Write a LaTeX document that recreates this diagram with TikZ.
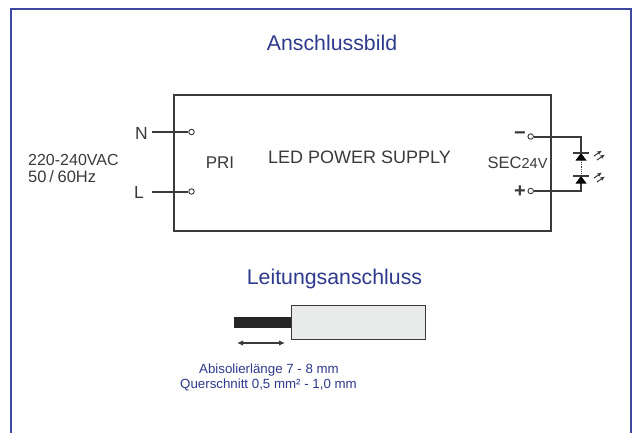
\documentclass[tikz,border=0pt]{standalone}
\usepackage{fontspec}
\setmainfont{Liberation Sans}
\definecolor{frameblue}{HTML}{3F48A0}
\definecolor{textblue}{HTML}{2E3A8C}
\definecolor{ink}{HTML}{3A3A3A}
\definecolor{cablefill}{HTML}{E9EBEA}
\usetikzlibrary{arrows.meta}
\tikzset{
  lbl/.style={inner sep=0pt,text=ink,font=\fontsize{#1}{#1}\selectfont},
  blbl/.style={inner sep=0pt,text=textblue,font=\fontsize{#1}{#1}\selectfont},
  wire/.style={draw=ink,line width=2pt},
  term/.style={circle,draw=ink,line width=.9pt,fill=white,minimum size=5.5pt,inner sep=0pt},
  dio/.style={fill=black,draw=none},
  led/.style={draw=ink,line width=1pt,-{Latex[length=4.5pt,width=4pt]}}
}
\begin{document}
\begin{tikzpicture}[x=1pt,y=-1pt]
\useasboundingbox (0,0) rectangle (634,433);
\fill[white] (0,0) rectangle (634,433);
% frame
\coordinate (fbl) at (10.5,433);
\coordinate (ftl) at (10.5,9.5);
\coordinate (ftr) at (630.5,9.5);
\coordinate (fbr) at (630.5,433);
\draw[frameblue,line width=2pt] (fbl) -- (ftl) -- (ftr) -- (fbr);
\node[blbl=21.3] (title) at (332,43) {Anschlussbild};
\node[blbl=21.3] (title2) at (334.5,278.5) {Leitungsanschluss};
% supply box
\node[draw=ink,line width=1.8pt,minimum width=377pt,minimum height=136pt,inner sep=0pt] (psu) at (362.5,163) {};
\node[lbl=18] (psutxt) at (359.5,157.5) {LED POWER SUPPLY};
\node[lbl=17] (pri) at (220,163) {PRI};
\node[lbl=16.5,anchor=west] (sec) at (487.5,163) {SEC\fontsize{14.5}{14.5}\selectfont 24V};
% mains labels
\node[lbl=16,anchor=west] (vac) at (28,159.5) {220-240VAC};
\node[lbl=16.5,anchor=west] (hz) at (28,177) {50\,/\,\kern1pt 60Hz};
\node[lbl=17.5] (N) at (141.5,133.5) {N};
\node[lbl=17.5] (L) at (139,192) {L};
\node[term] (tn) at (191.5,132) {};
\node[term] (tl) at (191.5,191.5) {};
\coordinate (nw) at (152,132);
\coordinate (lw) at (152,191.5);
\draw[wire] (nw) -- (tn);
\draw[wire] (lw) -- (tl);
% secondary
\node[term] (tm) at (530.7,136.5) {};
\node[term] (tp) at (530.7,191) {};
\node[lbl=20] (minus) at (520,136) {\textbf{−}};
\node[lbl=20] (plus) at (520,191.5) {\textbf{+}};
\coordinate (cm) at (581,136.5);
\coordinate (cp) at (581,191);
\coordinate (d1) at (581,153);
\coordinate (d2) at (581,176);
\draw[wire] (tm) -- (cm) -- (d1);
\draw[wire] (tp) -- (cp) -- (d2);
\draw[ink,line width=.8pt,densely dotted] (d1) -- (d2);
% LEDs
\fill[dio] (575.5,160.5) -- (586.5,160.5) -- (581,153) -- cycle;
\draw[ink,line width=1.4pt] (573,153) -- (589,153);
\fill[dio] (575.5,183.5) -- (586.5,183.5) -- (581,176) -- cycle;
\draw[ink,line width=1.4pt] (573,176) -- (589,176);
\draw[led] (594,156) -- (602,150.5);
\draw[led] (597,160) -- (605,154.5);
\draw[led] (594,178) -- (602,172.5);
\draw[led] (597,182) -- (605,176.5);
% cable
\node[draw=ink,fill=cablefill,line width=1.5pt,minimum width=134pt,minimum height=34pt,inner sep=0pt] (sleeve) at (358.5,322.5) {};
\fill[black!85] (234,317) rectangle (291,328);
\coordinate (al) at (237,343);
\coordinate (ar) at (285,343);
\draw[ink,line width=1.4pt,{Latex[length=6pt,width=5.5pt]}-{Latex[length=6pt,width=5.5pt]}] (al) -- (ar);
\node[blbl=13.3] (ab) at (269,370) {Abisolierlänge 7 - 8 mm};
\node[blbl=13.3] (qu) at (268.5,385) {Querschnitt 0,5 mm² - 1,0 mm};
\end{tikzpicture}
\end{document}
